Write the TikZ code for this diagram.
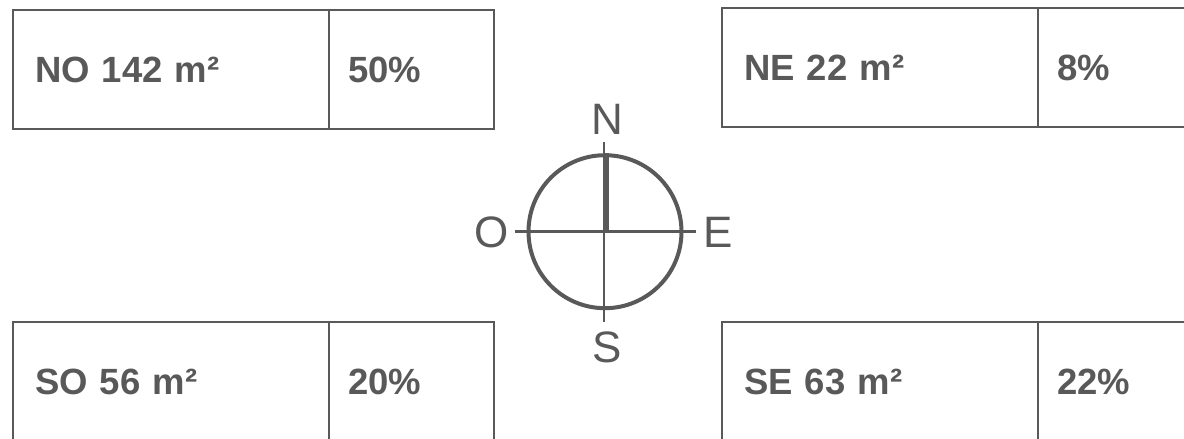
\documentclass[tikz,border=0pt]{standalone}
\usepackage{fontspec}
\setmainfont{Liberation Sans}
\usepackage{xcolor}
\usetikzlibrary{positioning}
\definecolor{ink}{HTML}{595959}

\begin{document}
\begin{tikzpicture}[x=1pt,y=-1pt,node distance=0pt]
  \tikzstyle{cell}=[draw=ink,line width=2pt,outer sep=0pt,minimum height=119pt,text=ink,align=left,font=\fontsize{36.5}{44}\selectfont\bfseries]
  \tikzstyle{area}=[cell,text width=272pt,inner xsep=22pt,anchor=north west]
  \tikzstyle{share}=[cell,text width=127pt,inner xsep=19pt]
  \tikzstyle{point}=[text=ink,inner sep=0pt,font=\fontsize{44}{44}\selectfont]
  \tikzstyle{axis}=[draw=ink,line width=2.5pt]
  \useasboundingbox (0,0) rectangle (1184,439);
  \clip (0,0) rectangle (1184,439);
  \node[area] (no) at (13,10) {NO 142 m²};
  \node[share,right=of no] (nopct) {50\%};
  \node[area] (ne) at (722,8) {NE 22 m²};
  \node[share,right=of ne] (nepct) {8\%};
  \node[area] (so) at (13,322) {SO 56 m²};
  \node[share,right=of so] (sopct) {20\%};
  \node[area] (se) at (722,322) {SE 63 m²};
  \node[share,right=of se] (sepct) {22\%};
  \node[circle,draw=ink,line width=4pt,minimum size=153pt,inner sep=0pt] (rose) at (605,231.7) {};
  \node[point] (n) at (607,119) {N};
  \node[point] (o) at (492,232) {O};
  \node[point] (e) at (718,232) {E};
  \node[point] (s) at (607,347) {S};
  \coordinate (tipw) at (515,231.7);
  \coordinate (tipe) at (696,231.7);
  \coordinate (tipn) at (604.2,142);
  \coordinate (tips) at (604.2,322);
  \draw[axis] (tipw) -- (tipe);
  \draw[axis] (tipn) -- (tips);
  \draw[draw=ink,line width=5.5pt] ([xshift=1.5pt]rose.north) -- ([xshift=1.5pt]rose.center);
\end{tikzpicture}
\end{document}
